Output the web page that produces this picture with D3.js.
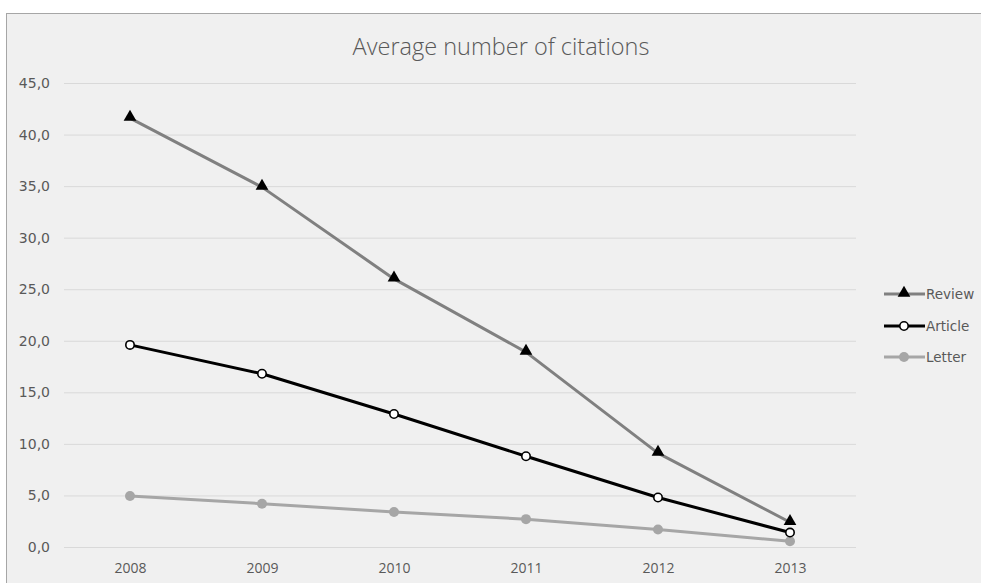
<!DOCTYPE html>
<html>
<head>
<meta charset="utf-8">
<script src="https://cdn.jsdelivr.net/npm/d3@7"></script>
<style>
  html, body { margin: 0; padding: 0; background: #ffffff; }
  svg { display: block; }
</style>
</head>
<body>
<svg id="chart" width="981" height="583"></svg>
<script>
// Data
const years = ["2008", "2009", "2010", "2011", "2012", "2013"];
const review = [41.6, 34.9, 26.0, 18.9, 9.1, 2.4];
const article = [19.6, 16.8, 12.9, 8.8, 4.8, 1.4];
const letter = [4.95, 4.2, 3.4, 2.7, 1.7, 0.55];
const yTicks = [0, 5, 10, 15, 20, 25, 30, 35, 40, 45];
const seriesNames = ["Review", "Article", "Letter"];

const svg = d3.select("#chart");
const W = 981, H = 583;

// chart frame
svg.append("rect")
  .attr("x", 6.5).attr("y", 13.5)
  .attr("width", W).attr("height", H)
  .attr("fill", "#f0f0f0")
  .attr("stroke", "#a6a6a6").attr("stroke-width", 1);

const plot = { left: 64, right: 856, top: 83, bottom: 547 };

const x = d3.scalePoint().domain(years)
  .range([plot.left, plot.right]).padding(0.5);
const y = d3.scaleLinear().domain([0, 45])
  .range([plot.bottom, plot.top]);

// title
svg.append("text")
  .attr("x", 501).attr("y", 55)
  .attr("text-anchor", "middle")
  .attr("font-family", "'Open Sans', sans-serif")
  .attr("font-weight", 300)
  .attr("font-size", 23.5)
  .attr("fill", "#595959")
  .text("Average number of citations");

// gridlines + y labels
const yAxis = d3.axisLeft(y).tickValues(yTicks)
  .tickSize(-(plot.right - plot.left))
  .tickPadding(14)
  .tickFormat(d => d3.format(".1f")(d).replace(".", ","));
const gy = svg.append("g")
  .attr("transform", `translate(${plot.left},0)`)
  .call(yAxis);
gy.select(".domain").remove();
gy.selectAll(".tick line").attr("stroke", "#d9d9d9").attr("stroke-width", 1);
gy.selectAll(".tick text")
  .attr("font-family", "'DejaVu Sans', sans-serif")
  .attr("font-size", 14)
  .attr("fill", "#595959");

// x labels
const xAxis = d3.axisBottom(x).tickSize(0).tickPadding(16);
const gx = svg.append("g")
  .attr("transform", `translate(0,${plot.bottom})`)
  .call(xAxis);
gx.select(".domain").remove();
gx.selectAll(".tick text")
  .attr("font-family", "'Open Sans', sans-serif")
  .attr("font-size", 14)
  .attr("fill", "#595959");

const series = [
  { name: seriesNames[0], values: review, color: "#808080", marker: "triangle" },
  { name: seriesNames[1], values: article, color: "#000000", marker: "open" },
  { name: seriesNames[2], values: letter, color: "#a6a6a6", marker: "dot" }
];

const line = d3.line()
  .x((d, i) => x(years[i]))
  .y(d => y(d));

function drawMarker(g, type, cx, cy) {
  if (type === "triangle") {
    g.append("path")
      .attr("d", d3.symbol().type(d3.symbolTriangle).size(70)())
      .attr("transform", `translate(${cx},${cy - 1})`)
      .attr("fill", "#000000");
  } else if (type === "open") {
    g.append("circle").attr("cx", cx).attr("cy", cy).attr("r", 4.2)
      .attr("fill", "#ffffff").attr("stroke", "#000000").attr("stroke-width", 1.6);
  } else {
    g.append("circle").attr("cx", cx).attr("cy", cy).attr("r", 5)
      .attr("fill", "#a6a6a6");
  }
}

// draw bottom series first so Review sits on top
const drawOrder = [series[2], series[1], series[0]];
drawOrder.forEach(s => {
  svg.append("path")
    .datum(s.values)
    .attr("d", line)
    .attr("fill", "none")
    .attr("stroke", s.color)
    .attr("stroke-width", 3)
    .attr("stroke-linejoin", "round");
});
drawOrder.forEach(s => {
  const g = svg.append("g");
  s.values.forEach((v, i) => drawMarker(g, s.marker, x(years[i]), y(v)));
});

// legend
const legendY = [294, 326, 357];
series.forEach((s, i) => {
  const g = svg.append("g").attr("transform", `translate(0,${legendY[i]})`);
  g.append("line").attr("x1", 884).attr("x2", 925).attr("y1", 0).attr("y2", 0)
    .attr("stroke", s.color).attr("stroke-width", 3);
  drawMarker(g, s.marker, 904, 0);
  g.append("text")
    .attr("x", 926).attr("y", 0).attr("dy", "0.35em")
    .attr("font-family", "'DejaVu Sans', sans-serif")
    .attr("font-size", 13.5)
    .attr("fill", "#595959")
    .text(s.name);
});
</script>
</body>
</html>
